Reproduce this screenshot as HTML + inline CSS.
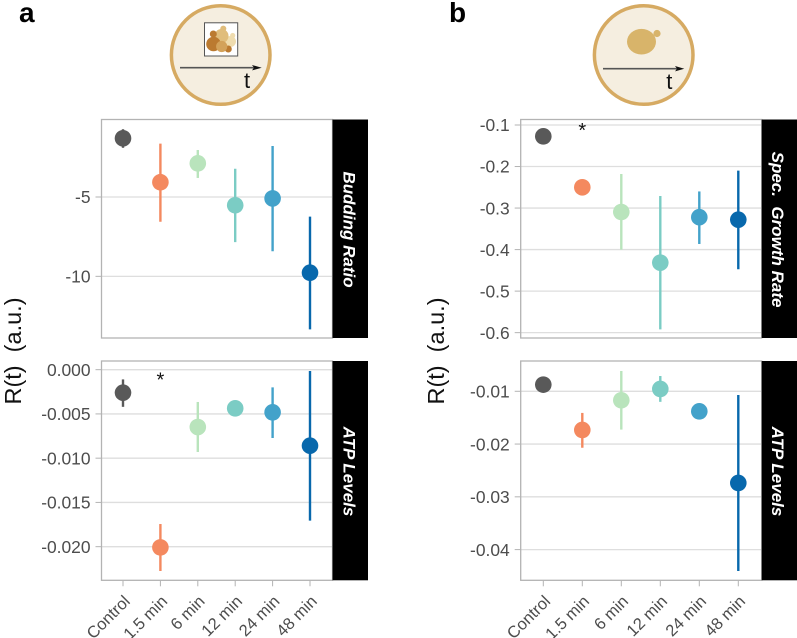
<!DOCTYPE html>
<html lang="en">
<head>
<meta charset="utf-8">
<title>R(t) by treatment duration</title>
<style>
  html, body { margin: 0; padding: 0; background: #fff; }
  svg { display: block; font-family: "Liberation Sans", sans-serif; }
  text { white-space: pre; }
</style>
</head>
<body>
<svg id="figure" xmlns="http://www.w3.org/2000/svg" width="797" height="638" viewBox="0 0 797 638">
  <rect width="797" height="638" fill="#ffffff"/>
  <text x="19" y="22" font-size="28" font-weight="bold" fill="#000">a</text>
  <text x="449" y="22" font-size="28" font-weight="bold" fill="#000">b</text>

  <g>
    <circle cx="220.7" cy="55" r="49.3" fill="#f5eee0" stroke="#d6aa62" stroke-width="3.5"/>
    <rect x="204.5" y="22.8" width="33.2" height="33.2" fill="#ffffff" stroke="#555555" stroke-width="1"/>
    <circle cx="232.7" cy="35.5" r="2.6" fill="#efdcae"/>
    <circle cx="230.5" cy="41.5" r="5.5" fill="#efdcae"/>
    <circle cx="223.3" cy="28.6" r="3" fill="#e0bd7c"/>
    <circle cx="221.5" cy="36" r="7" fill="#e0bd7c"/>
    <circle cx="213.3" cy="34" r="3.5" fill="#bb7a30"/>
    <circle cx="213.5" cy="44" r="7.3" fill="#bb7a30"/>
    <circle cx="228.3" cy="49" r="3.5" fill="#bb7a30"/>
    <circle cx="221.7" cy="46.5" r="5.6" fill="#d3a25a"/>
    <line x1="180" y1="67.7" x2="254" y2="67.7" stroke="#555555" stroke-width="1.6"/>
    <polygon points="261.7,67.7 252,65 254,67.7 252,70.4" fill="#111111"/>
    <text x="244" y="88" font-size="22" fill="#111">t</text>
  </g>
  <g>
    <circle cx="643.7" cy="55" r="49.3" fill="#f5eee0" stroke="#d6aa62" stroke-width="3.5"/>
    <ellipse cx="641.5" cy="41.7" rx="14.5" ry="12.8" fill="#d8b46a"/>
    <circle cx="657" cy="33.5" r="3.6" fill="#d8b46a"/>
    <line x1="603" y1="68.7" x2="677" y2="68.7" stroke="#555555" stroke-width="1.6"/>
    <polygon points="684.3,68.7 675,66 677,68.7 675,71.4" fill="#111111"/>
    <text x="666.3" y="89" font-size="22" fill="#111">t</text>
  </g>

  <text transform="translate(21,351) rotate(-90)" text-anchor="middle" font-size="23.5" fill="#111">R(t)  (a.u.)</text>
  <text transform="translate(444,351) rotate(-90)" text-anchor="middle" font-size="23.5" fill="#111">R(t)  (a.u.)</text>
</svg>
<script>
const categories = ['Control', '1.5 min', '6 min', '12 min', '24 min', '48 min'];
const seriesColors = ['#595959', '#f4895f', '#b9e4bc', '#7bccc4', '#43a2ca', '#0868ac'];

const buddingMid = [-1.3, -4.07, -2.88, -5.52, -5.09, -9.77];
const buddingHigh = [-0.73, -1.64, -2.04, -3.22, -1.79, -6.24];
const buddingLow = [-1.9, -6.56, -3.8, -7.84, -8.42, -13.34];
const buddingTicks = [-5, -10];
const buddingTickLabels = ['-5', '-10'];

const atpAMid = [-0.0026, -0.02008, -0.00648, -0.00437, -0.00482, -0.00859];
const atpAHigh = [-0.0011, -0.01744, -0.00365, -0.00437, -0.002, -0.00015];
const atpALow = [-0.0042, -0.02275, -0.0093, -0.00437, -0.00772, -0.01706];
const atpATicks = [0, -0.005, -0.01, -0.015, -0.02];
const atpATickLabels = ['0.000', '-0.005', '-0.010', '-0.015', '-0.020'];

const growthMid = [-0.1273, -0.25, -0.3095, -0.4315, -0.322, -0.328];
const growthHigh = [-0.1273, -0.25, -0.218, -0.271, -0.26, -0.21];
const growthLow = [-0.1273, -0.25, -0.4, -0.592, -0.3865, -0.4475];
const growthTicks = [-0.1, -0.2, -0.3, -0.4, -0.5, -0.6];
const growthTickLabels = ['-0.1', '-0.2', '-0.3', '-0.4', '-0.5', '-0.6'];

const atpBMid = [-0.00874, -0.01733, -0.0117, -0.00956, -0.0138, -0.02737];
const atpBHigh = [-0.00874, -0.0141, -0.00615, -0.0071, -0.0138, -0.0107];
const atpBLow = [-0.00874, -0.0207, -0.01726, -0.012, -0.0138, -0.04405];
const atpBTicks = [-0.01, -0.02, -0.03, -0.04];
const atpBTickLabels = ['-0.01', '-0.02', '-0.03', '-0.04'];

const svg = document.getElementById('figure');
const NS = 'http://www.w3.org/2000/svg';

function make(tag, attrs, parent) {
  const el = document.createElementNS(NS, tag);
  for (const k in attrs) el.setAttribute(k, attrs[k]);
  parent.appendChild(el);
  return el;
}

function linearScale(d0, d1, r0, r1) {
  return function (v) { return r0 + (v - d0) * (r1 - r0) / (d1 - d0); };
}

function drawPanel(p) {
  const g = make('g', {}, svg);
  
  

  const y = linearScale(p.domain[0], p.domain[1], p.top, p.bottom);
  const x = function (i) { return p.firstX + i * p.stepX; };

  const bg = make('rect', { x: p.left, y: p.top, width: p.right - p.left, height: p.bottom - p.top, fill: '#ffffff' }, g);
  
  

  p.ticks.forEach(function (t, i) {
    const py = y(t);
    const grid = make('line', { x1: p.left, x2: p.right, y1: py, y2: py, stroke: '#dedede', 'stroke-width': 1.3 }, g);
    
    
    const tick = make('line', { x1: p.left - 6, x2: p.left, y1: py, y2: py, stroke: '#b3b3b3', 'stroke-width': 1 }, g);
    
    
    const label = make('text', { x: p.left - 11, y: py + 6.2, 'text-anchor': 'end', 'font-size': 17.4, fill: '#4d4d4d' }, g);
    
    
    label.textContent = p.tickLabels[i];
  });

  const frame = make('rect', { x: p.left, y: p.top, width: p.right - p.left, height: p.bottom - p.top, fill: 'none', stroke: '#b3b3b3', 'stroke-width': 1.3 }, g);
  
  

  categories.forEach(function (c, i) {
    const err = make('line', { x1: x(i), x2: x(i), y1: y(p.high[i]), y2: y(p.low[i]), stroke: seriesColors[i], 'stroke-width': 2.4 }, g);
    
    
    const pt = make('circle', { cx: x(i), cy: y(p.mid[i]), r: 8.3, fill: seriesColors[i] }, g);
    
    
  });

  const strip = make('rect', { x: p.right, y: p.top, width: p.stripW, height: p.bottom - p.top, fill: '#000000' }, g);
  
  
  const stripCx = p.right + p.stripTextX;
  const stripCy = (p.top + p.bottom) / 2 + 0.8;
  const st = make('text', { transform: 'translate(' + stripCx + ',' + stripCy + ') rotate(90)', 'text-anchor': 'middle', 'font-size': 17, 'font-weight': 'bold', 'font-style': 'italic', fill: '#ffffff' }, g);
  
  
  st.textContent = p.title;

  if (p.starIndex !== undefined) {
    const star = make('text', { x: x(p.starIndex), y: p.starY, 'text-anchor': 'middle', 'font-size': 20, fill: '#111' }, g);
    
    
    star.textContent = '*';
  }

  if (p.showX) {
    categories.forEach(function (c, i) {
      const tick = make('line', { x1: x(i), x2: x(i), y1: p.bottom, y2: p.bottom + 6, stroke: '#b3b3b3', 'stroke-width': 1 }, g);
      
      
      const lab = make('text', { transform: 'translate(' + (x(i) + 8) + ',' + (p.bottom + 22) + ') rotate(-45)', 'text-anchor': 'end', 'font-size': 16.5, fill: '#4d4d4d' }, g);
      
      
      lab.textContent = c;
    });
  }
}

const panelA = { left: 101.5, right: 332.5, stripW: 35.5, stripTextX: 11, firstX: 123, stepX: 37.4 };
const panelB = { left: 520.7, right: 761.7, stripW: 35.3, stripTextX: 10.5, firstX: 543.3, stepX: 39 };

drawPanel(Object.assign({}, panelA, { name: 'budding-ratio-panel', title: 'Budding Ratio', top: 119.5, bottom: 338, domain: [-0.117, -13.885], ticks: buddingTicks, tickLabels: buddingTickLabels, mid: buddingMid, high: buddingHigh, low: buddingLow }));
drawPanel(Object.assign({}, panelA, { name: 'atp-levels-panel-a', title: 'ATP Levels', top: 361, bottom: 580.3, domain: [0.00098, -0.0238], ticks: atpATicks, tickLabels: atpATickLabels, mid: atpAMid, high: atpAHigh, low: atpALow, starIndex: 1, starY: 386.5, showX: true }));
drawPanel(Object.assign({}, panelB, { name: 'growth-rate-panel', title: 'Spec.  Growth Rate', top: 119.5, bottom: 338, domain: [-0.08676, -0.6129], ticks: growthTicks, tickLabels: growthTickLabels, mid: growthMid, high: growthHigh, low: growthLow, starIndex: 1, starY: 137 }));
drawPanel(Object.assign({}, panelB, { name: 'atp-levels-panel-b', title: 'ATP Levels', top: 361, bottom: 580.3, domain: [-0.00426, -0.04582], ticks: atpBTicks, tickLabels: atpBTickLabels, mid: atpBMid, high: atpBHigh, low: atpBLow, showX: true }));
</script>
</body>
</html>
